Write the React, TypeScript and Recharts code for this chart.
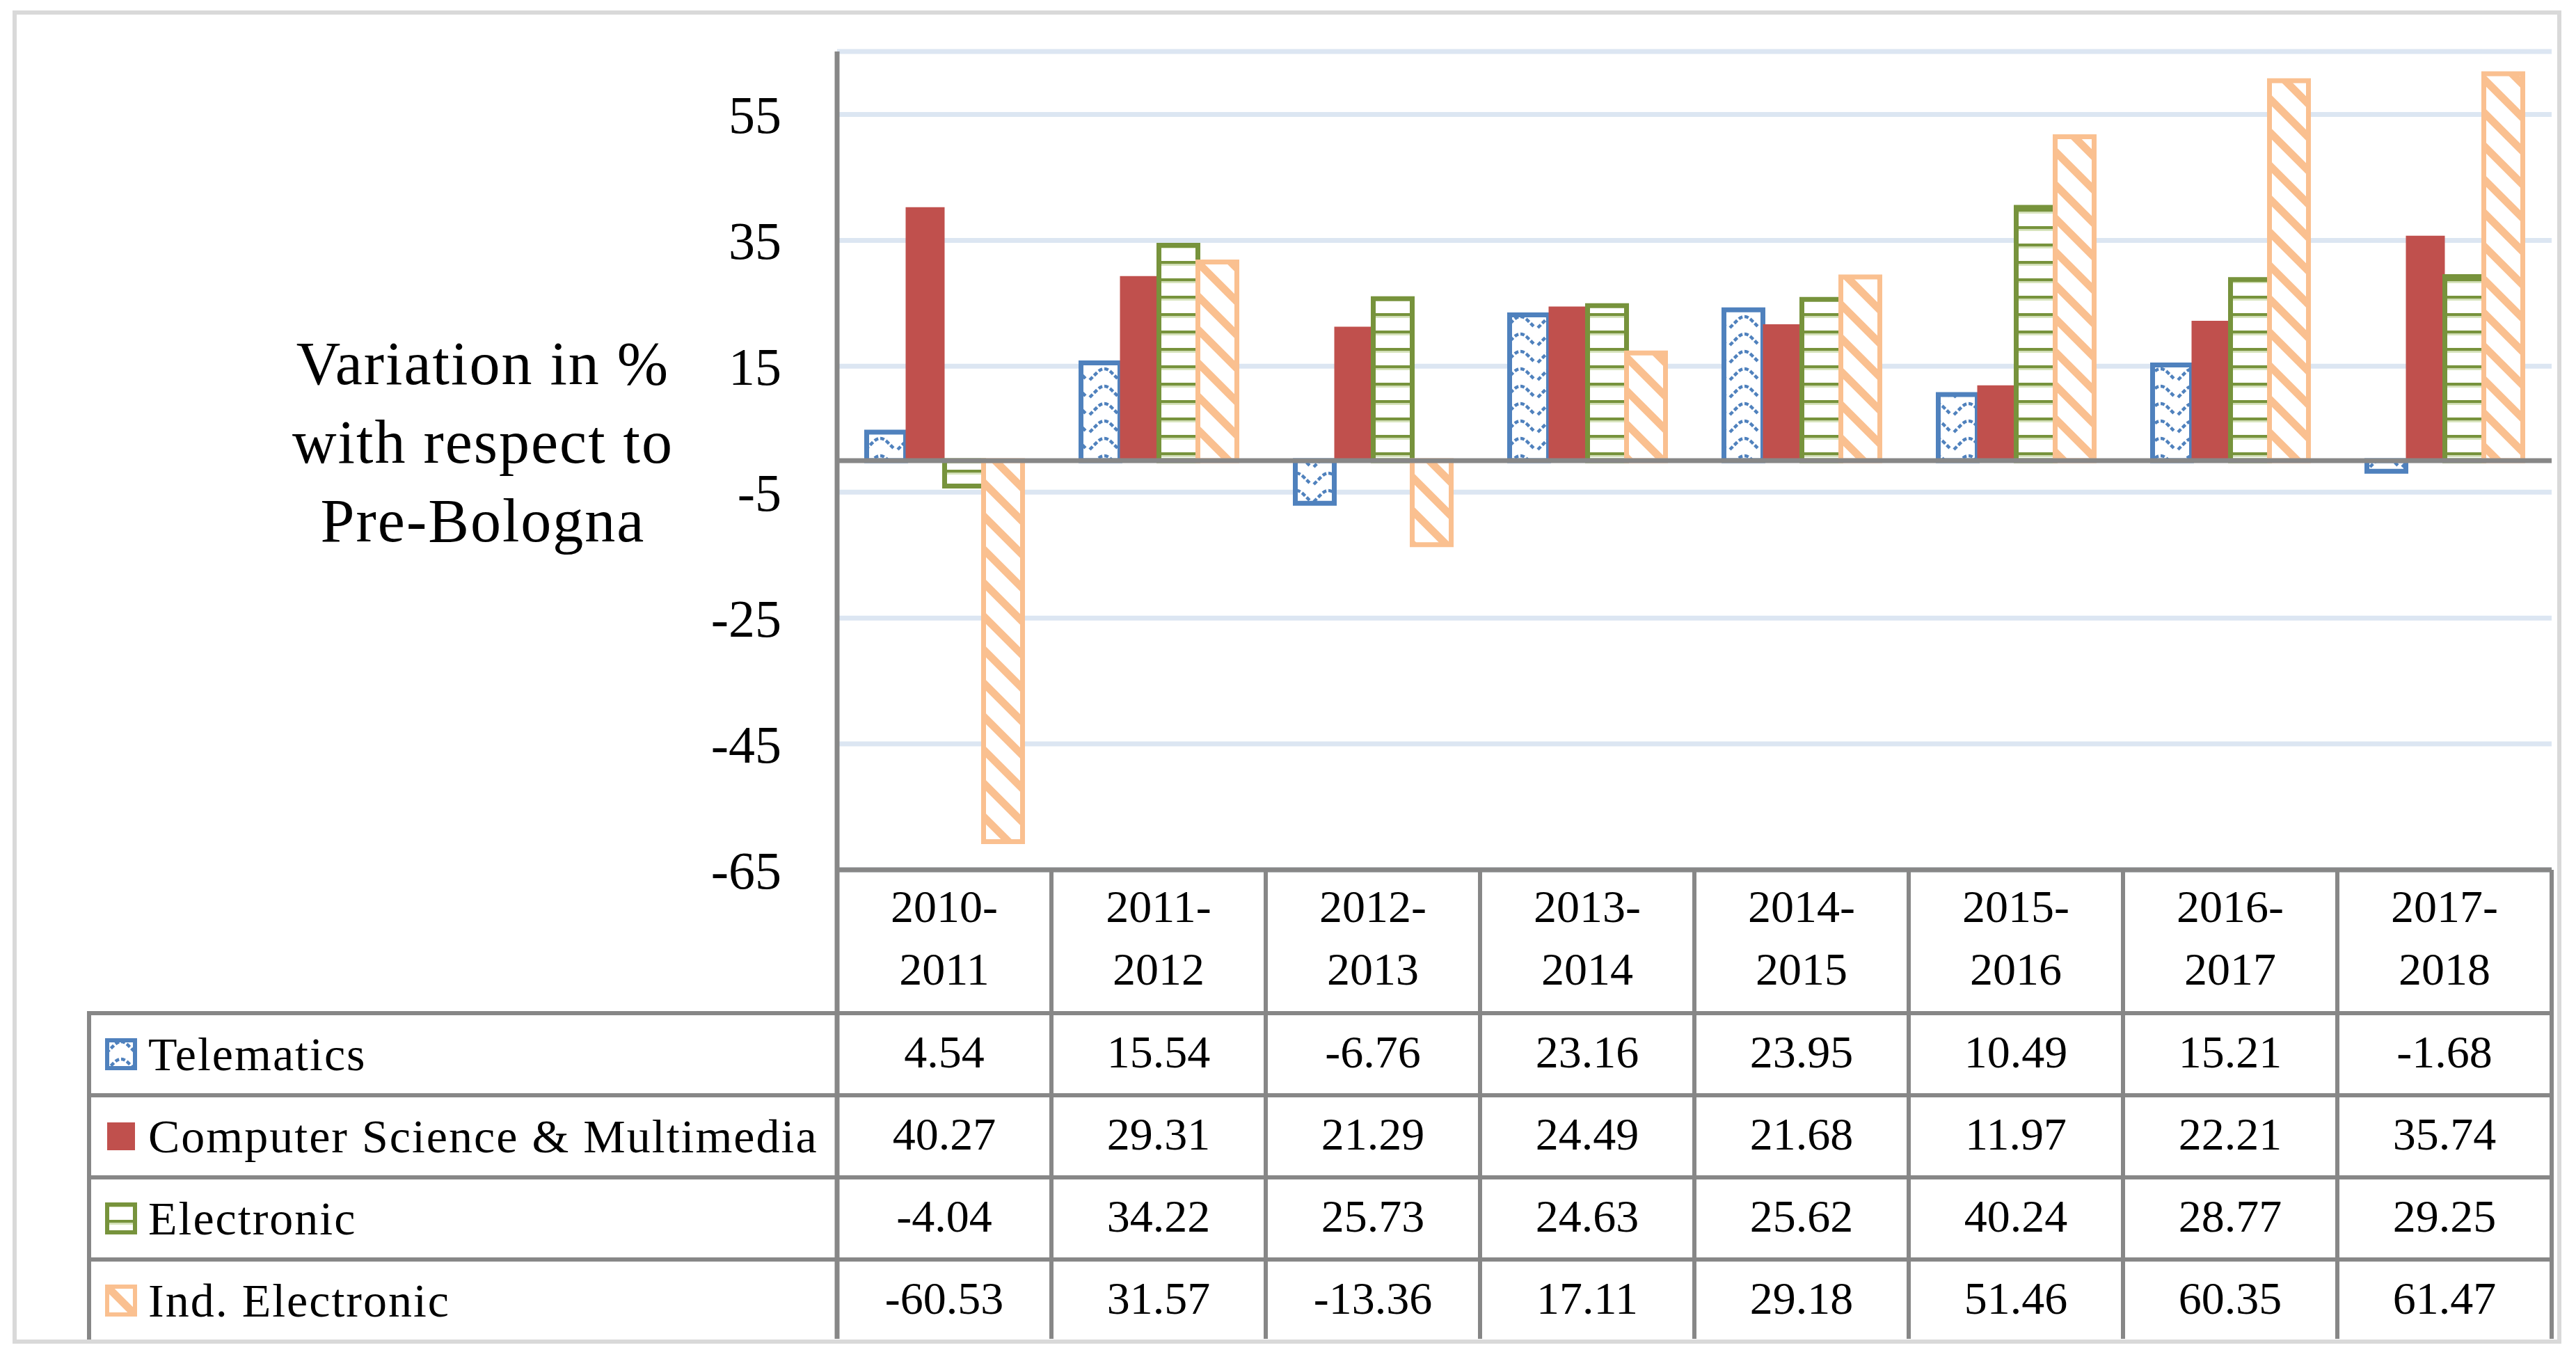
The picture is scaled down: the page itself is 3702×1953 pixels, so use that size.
import {
  Bar,
  BarChart,
  CartesianGrid,
  Legend,
  ReferenceLine,
  XAxis,
  YAxis,
} from "recharts";

const PERIODS = ["2010-2011", "2011-2012", "2012-2013", "2013-2014", "2014-2015", "2015-2016", "2016-2017", "2017-2018"];
const TELEMATICS = [4.54, 15.54, -6.76, 23.16, 23.95, 10.49, 15.21, -1.68];
const COMPUTER_SCIENCE = [40.27, 29.31, 21.29, 24.49, 21.68, 11.97, 22.21, 35.74];
const ELECTRONIC = [-4.04, 34.22, 25.73, 24.63, 25.62, 40.24, 28.77, 29.25];
const IND_ELECTRONIC = [-60.53, 31.57, -13.36, 17.11, 29.18, 51.46, 60.35, 61.47];
const Y_TICKS = [-65, -45, -25, -5, 15, 35, 55];

const SERIES = [
  { key: "telematics", name: "Telematics", values: TELEMATICS, fill: "url(#wave)", stroke: "#4F81BD" },
  { key: "cs", name: "Computer Science & Multimedia", values: COMPUTER_SCIENCE, fill: "#C0504D", stroke: "none" },
  { key: "electronic", name: "Electronic", values: ELECTRONIC, fill: "url(#hlines)", stroke: "#77933C" },
  { key: "ind", name: "Ind. Electronic", values: IND_ELECTRONIC, fill: "url(#diag)", stroke: "#FAC090" },
];

const data = PERIODS.map((period, i) => {
  const row: Record<string, string | number> = { period };
  for (const s of SERIES) row[s.key] = s.values[i];
  return row;
});

// layout (px)
const W = 3702;
const H = 1953;
const PLOT_LEFT = 1203;
const PLOT_RIGHT = 3667;
const PLOT_TOP = 74;
const PLOT_BOTTOM = 1250;
const COL_W = (PLOT_RIGHT - PLOT_LEFT) / PERIODS.length;
const HEADER_H = 206;
const ROW_H = 118;
const TABLE_BOTTOM = 1924;
const LINE = "#878787";
const FONT = "'Liberation Serif', serif";

function fmt(v: number) {
  return v.toFixed(2);
}

function TableColumn(props: any) {
  const { x, y, payload } = props;
  const i = PERIODS.indexOf(payload.value);
  const half = COL_W / 2;
  const [first, second] = String(payload.value).split("-");
  return (
    <g fontFamily={FONT} fontSize={66} fill="#000">
      <text x={x} y={y + 75} textAnchor="middle">{first}-</text>
      <text x={x} y={y + 165} textAnchor="middle">{second}</text>
      {SERIES.map((s, r) => {
        const top = y + HEADER_H + r * ROW_H;
        return (
          <g key={s.key}>
            <line x1={x - half} x2={x + half} y1={top} y2={top} stroke={LINE} strokeWidth={6} />
            <text x={x} y={top + 78} textAnchor="middle">{fmt(s.values[i])}</text>
          </g>
        );
      })}
      <line x1={x + half} x2={x + half} y1={y} y2={TABLE_BOTTOM} stroke={LINE} strokeWidth={6} />
      {i === 0 && <line x1={x - half} x2={x - half} y1={y} y2={TABLE_BOTTOM} stroke={LINE} strokeWidth={7} />}
    </g>
  );
}

function AxisTitle(props: any) {
  const vb = props.viewBox || { x: 1003, y: PLOT_TOP, width: 200, height: PLOT_BOTTOM - PLOT_TOP };
  const cx = vb.x - 309;
  const mid = vb.y + vb.height / 2;
  const lines = ["Variation in %", "with respect to", "Pre-Bologna"];
  return (
    <text fontFamily={FONT} fontSize={88} fill="#000" textAnchor="middle" letterSpacing={2}>
      {lines.map((t, k) => (
        <tspan key={t} x={cx} y={mid - 110 + k * 113}>{t}</tspan>
      ))}
    </text>
  );
}

function Swatch({ fill, stroke }: { fill: string; stroke: string }) {
  return (
    <svg width={46} height={46} style={{ flex: "none" }}>
      <rect
        x={3}
        y={3}
        width={40}
        height={40}
        fill={fill}
        stroke={stroke}
        strokeWidth={stroke === "none" ? 0 : 6}
      />
    </svg>
  );
}

function TableLegend() {
  return (
    <div style={{ width: 1081, fontFamily: FONT, fontSize: 68, color: "#000", letterSpacing: 2 }}>
      {SERIES.map((s, r) => (
        <div
          key={s.key}
          style={{
            boxSizing: "border-box",
            height: r === SERIES.length - 1 ? 1925 - (1453 + 3 * ROW_H) : ROW_H,
            borderTop: `6px solid ${LINE}`,
            borderLeft: `6px solid ${LINE}`,
            display: "flex",
            alignItems: "center",
            paddingLeft: 20,
            gap: 16,
            lineHeight: 1,
            whiteSpace: "nowrap",
          }}
        >
          <Swatch fill={s.fill} stroke={s.stroke} />
          <span>{s.name}</span>
        </div>
      ))}
    </div>
  );
}

export default function App() {
  return (
    <div style={{ position: "absolute", left: 0, top: 0, width: W, height: H, background: "#fff", fontFamily: FONT }}>
      <svg width={0} height={0} style={{ position: "absolute" }}>
        <defs>
          <pattern id="wave" patternUnits="userSpaceOnUse" width={46} height={25}>
            <rect width={46} height={25} fill="#fff" />
            <path
              d="M2 21 L13 10 Q18 5 23 5 Q28 5 33 10 L44 21"
              fill="none"
              stroke="#4F81BD"
              strokeWidth={4.5}
              strokeDasharray="6 3"
            />
          </pattern>
          <pattern id="hlines" patternUnits="userSpaceOnUse" width={20} height={25}>
            <rect width={20} height={25} fill="#fff" />
            <rect y={0} width={20} height={4.5} fill="#77933C" />
            <rect y={4.5} width={20} height={2.5} fill="#D7E4BD" />
          </pattern>
          <pattern id="diag" patternUnits="userSpaceOnUse" width={48} height={48}>
            <rect width={48} height={48} fill="#fff" />
            <path d="M-10 -10 L58 58 M-10 38 L10 58 M38 -10 L58 10" stroke="#FAC090" strokeWidth={11} />
          </pattern>
        </defs>
      </svg>
      <div
        style={{
          position: "absolute",
          left: 18,
          top: 15,
          width: 3663,
          height: 1916,
          boxSizing: "border-box",
          border: "6px solid #D9D9D9",
        }}
      />
      <div style={{ position: "absolute", left: 0, top: 0 }}>
        <BarChart
          width={W}
          height={H}
          data={data}
          barCategoryGap="13.8%"
          barGap={0}
          margin={{ top: PLOT_TOP, right: W - PLOT_RIGHT, bottom: 0, left: PLOT_LEFT - 200 }}
        >
          <CartesianGrid vertical={false} stroke="#DCE6F2" strokeWidth={7} />
          <XAxis
            dataKey="period"
            height={H - PLOT_BOTTOM}
            interval={0}
            tickLine={false}
            tickSize={0}
            tickMargin={0}
            axisLine={{ stroke: LINE, strokeWidth: 7 }}
            tick={(p: any) => <TableColumn {...p} />}
          />
          <YAxis
            width={200}
            domain={[-65, 65]}
            ticks={Y_TICKS}
            allowDataOverflow
            tickLine={false}
            tickSize={0}
            tickMargin={80}
            axisLine={{ stroke: LINE, strokeWidth: 7 }}
            tick={{ fill: "#000", fontSize: 76, fontFamily: FONT }}
            label={(p: any) => <AxisTitle {...p} />}
          />
          <Legend
            layout="vertical"
            align="center"
            verticalAlign="middle"
            wrapperStyle={{ left: 125, top: 1453, width: 1081 }}
            content={() => <TableLegend />}
          />
          {SERIES.map((s) => (
            <Bar
              key={s.key}
              dataKey={s.key}
              name={s.name}
              fill={s.fill}
              stroke={s.stroke}
              strokeWidth={s.stroke === "none" ? 0 : 7}
              isAnimationActive={false}
            />
          ))}
          <ReferenceLine y={0} stroke={LINE} strokeWidth={7} />
        </BarChart>
      </div>
    </div>
  );
}
